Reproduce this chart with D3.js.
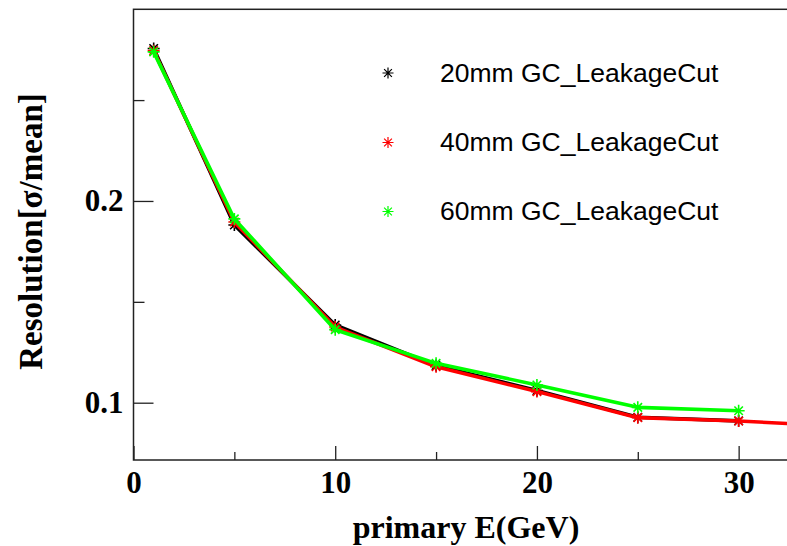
<!DOCTYPE html>
<html>
<head>
<meta charset="utf-8">
<script src="https://cdn.jsdelivr.net/npm/d3@7"></script>
<style>
  html, body { margin: 0; padding: 0; background: #fff; }
  svg { display: block; }
</style>
</head>
<body>
<svg id="chart" width="787" height="546"></svg>
<script>
// Energy points (GeV) and resolution (sigma/mean) for each gap configuration
const energies = [1, 5, 10, 15, 20, 25, 30];
const res20mm = [0.2756, 0.1881, 0.1385, 0.1184, 0.1060, 0.0928, 0.0910];
const res40mm = [0.2745, 0.1896, 0.1375, 0.1178, 0.1055, 0.0926, 0.0909, 0.0860];
const energies40mm = [1, 5, 10, 15, 20, 25, 30, 40];
const res60mm = [0.2739, 0.1911, 0.1362, 0.1195, 0.1088, 0.0977, 0.0960];

const seriesNames = ["20mm GC_LeakageCut", "40mm GC_LeakageCut", "60mm GC_LeakageCut"];
const seriesColors = ["#000000", "#ff0000", "#00ff00"];

const xMajorTicks = [0, 10, 20, 30];
const xMinorTicks = [5, 15, 25, 35];
const yMajorTicks = [0.1, 0.2];
const yMinorTicks = [0.15, 0.25];

const xTitle = "primary E(GeV)";
const yTitle = "Resolution[\u03c3/mean]";

const svg = d3.select("#chart");

const frame = { left: 133.5, right: 839.5, top: 9.3, bottom: 460 };

const x = d3.scaleLinear().domain([0, 35]).range([frame.left, frame.right]);
const y = d3.scaleLinear().domain([0.0716, 0.2950]).range([frame.bottom, frame.top]);

const serif = "'Liberation Serif', 'Times New Roman', serif";
const sans = "'Liberation Sans', Arial, Helvetica, sans-serif";

svg.append("defs").append("clipPath").attr("id", "plotClip")
  .append("rect")
  .attr("x", frame.left).attr("y", frame.top)
  .attr("width", frame.right - frame.left).attr("height", frame.bottom - frame.top);

// X axis: major ticks with labels, minor ticks without
const xMajor = svg.append("g")
  .attr("transform", `translate(0,${frame.bottom})`)
  .call(d3.axisBottom(x).tickValues(xMajorTicks).tickSize(-14).tickPadding(11).tickFormat(d3.format("d")));
const xMinor = svg.append("g")
  .attr("transform", `translate(0,${frame.bottom})`)
  .call(d3.axisBottom(x).tickValues(xMinorTicks).tickSize(-8).tickFormat(""));

// Y axis
const yMajor = svg.append("g")
  .attr("transform", `translate(${frame.left},0)`)
  .call(d3.axisLeft(y).tickValues(yMajorTicks).tickSize(-20).tickPadding(10).tickFormat(d3.format(".1f")));
const yMinor = svg.append("g")
  .attr("transform", `translate(${frame.left},0)`)
  .call(d3.axisLeft(y).tickValues(yMinorTicks).tickSize(-11).tickFormat(""));

[xMajor, xMinor, yMajor, yMinor].forEach(g => {
  g.select(".domain").remove();
  g.selectAll(".tick line").attr("stroke", "#222").attr("stroke-width", 1.3);
  g.selectAll(".tick text")
    .attr("fill", "#000")
    .style("font-family", serif)
    .style("font-weight", "bold")
    .style("font-size", "31px");
});

// Frame
svg.append("rect")
  .attr("x", frame.left).attr("y", frame.top)
  .attr("width", frame.right - frame.left).attr("height", frame.bottom - frame.top)
  .attr("fill", "none").attr("stroke", "#222").attr("stroke-width", 1.5);

// Asterisk marker path centred on the origin
function star(r) {
  const d = r * Math.SQRT1_2;
  return `M${-r},0L${r},0M0,${-r}L0,${r}M${-d},${-d}L${d},${d}M${-d},${d}L${d},${-d}`;
}

const series = [
  { xs: energies, ys: res20mm },
  { xs: energies40mm, ys: res40mm },
  { xs: energies, ys: res60mm }
];

const plot = svg.append("g").attr("clip-path", "url(#plotClip)");
const line = d3.line().x(d => x(d[0])).y(d => y(d[1]));

series.forEach((s, i) => {
  const pts = s.xs.map((e, k) => [e, s.ys[k]]);
  const g = plot.append("g");
  g.append("path")
    .datum(pts)
    .attr("d", line)
    .attr("fill", "none")
    .attr("stroke", seriesColors[i])
    .attr("stroke-width", 3.6)
    .attr("stroke-linejoin", "round");
  g.selectAll("path.marker")
    .data(pts)
    .join("path")
    .attr("class", "marker")
    .attr("d", star(6))
    .attr("transform", d => `translate(${x(d[0])},${y(d[1])})`)
    .attr("stroke", seriesColors[i])
    .attr("stroke-width", 1.6)
    .attr("fill", "none");
});

// Legend
const legendRows = [77, 146.5, 215.5];
seriesNames.forEach((name, i) => {
  svg.append("path")
    .attr("d", star(5.5))
    .attr("transform", `translate(388,${legendRows[i] - 4})`)
    .attr("stroke", seriesColors[i])
    .attr("stroke-width", 1.2)
    .attr("fill", "none");
  svg.append("text")
    .attr("x", 440)
    .attr("y", legendRows[i] + 4.7)
    .attr("fill", "#000")
    .style("font-family", sans)
    .style("font-size", "26.5px")
    .text(name);
});

// Axis titles
svg.append("text")
  .attr("x", 466)
  .attr("y", 538)
  .attr("text-anchor", "middle")
  .attr("fill", "#000")
  .style("font-family", serif)
  .style("font-weight", "bold")
  .style("font-size", "32px")
  .text(xTitle);

svg.append("text")
  .attr("transform", "translate(42,231.5) rotate(-90)")
  .attr("text-anchor", "middle")
  .attr("fill", "#000")
  .style("font-family", serif)
  .style("font-weight", "bold")
  .style("font-size", "33px")
  .text(yTitle);
</script>
</body>
</html>
